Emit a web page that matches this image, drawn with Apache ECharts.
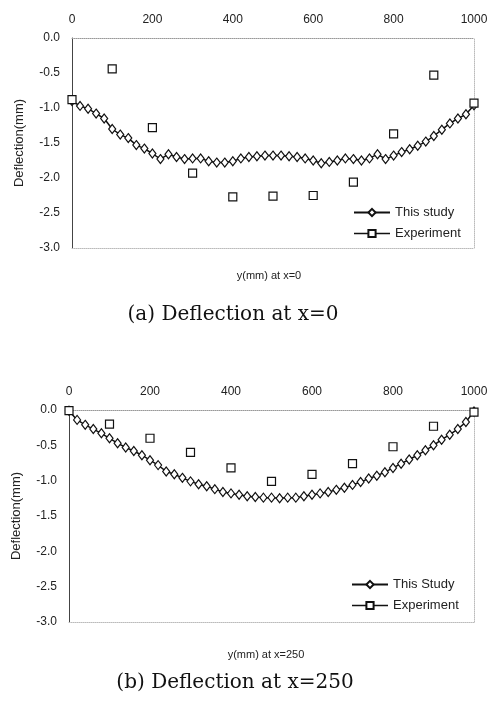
<!DOCTYPE html>
<html>
<head>
<meta charset="utf-8">
<script src="https://cdn.jsdelivr.net/npm/echarts@6/dist/echarts.min.js"></script>
<style>
html,body{margin:0;padding:0;background:#fff;}
#c{width:492px;height:711px;}
</style>
</head>
<body>
<div id="c"></div>
<script>
// y positions (mm) of the computed points
const studyY = [0,20,40,60,80,100,120,140,160,180,200,220,240,260,280,300,320,340,360,380,400,420,440,460,480,500,520,540,560,580,600,620,640,660,680,700,720,740,760,780,800,820,840,860,880,900,920,940,960,980,1000];
// (a) x=0
const studyA = [-0.90,-0.97,-1.01,-1.08,-1.15,-1.30,-1.38,-1.43,-1.53,-1.58,-1.65,-1.73,-1.66,-1.70,-1.73,-1.72,-1.72,-1.76,-1.78,-1.78,-1.76,-1.72,-1.70,-1.69,-1.68,-1.68,-1.68,-1.69,-1.70,-1.72,-1.75,-1.79,-1.77,-1.75,-1.72,-1.73,-1.75,-1.72,-1.66,-1.73,-1.68,-1.63,-1.59,-1.54,-1.48,-1.40,-1.31,-1.22,-1.15,-1.09,-0.96];
const expY = [0,100,200,300,400,500,600,700,800,900,1000];
const expA = [-0.88,-0.44,-1.28,-1.93,-2.27,-2.26,-2.25,-2.06,-1.37,-0.53,-0.93];
// (b) x=250
const studyB = [-0.01,-0.14,-0.21,-0.27,-0.33,-0.40,-0.47,-0.53,-0.58,-0.64,-0.71,-0.78,-0.87,-0.91,-0.96,-1.01,-1.05,-1.08,-1.12,-1.16,-1.18,-1.20,-1.22,-1.23,-1.24,-1.24,-1.25,-1.24,-1.24,-1.22,-1.20,-1.18,-1.16,-1.13,-1.10,-1.06,-1.02,-0.97,-0.93,-0.88,-0.82,-0.76,-0.70,-0.64,-0.57,-0.50,-0.42,-0.35,-0.27,-0.17,-0.02];
const expB = [-0.01,-0.20,-0.40,-0.60,-0.82,-1.01,-0.91,-0.76,-0.52,-0.23,-0.03];
const xTicks = ['0','200','400','600','800','1000'];
const yTicks = ['0.0','-0.5','-1.0','-1.5','-2.0','-2.5','-3.0'];

const zip = (a,b)=>a.map((v,i)=>[v,b[i]]);
const txt = '#222';
const sans = 'Liberation Sans';

function mainX(grid){
  return {type:'value', gridIndex:grid, position:'top', min:0, max:1000, interval:200,
    axisLine:{show:true, lineStyle:{color:'#999', type:'dotted', width:1}},
    axisTick:{show:false}, splitLine:{show:false},
    axisLabel:{color:txt, fontSize:12, fontFamily:sans, margin:12,
      formatter:v=>xTicks[Math.round(v/200)]}};
}
function borderX(grid){
  return {type:'value', gridIndex:grid, position:'bottom', min:0, max:1000, interval:200,
    axisLine:{show:true, onZero:false, lineStyle:{color:'#bbb', type:'dotted', width:1}},
    axisTick:{show:false}, axisLabel:{show:false}, splitLine:{show:false}};
}
function mainY(grid){
  return {type:'value', gridIndex:grid, position:'left', min:-3, max:0, interval:0.5,
    name:'Deflection(mm)', nameLocation:'middle', nameGap:46,
    nameTextStyle:{color:txt, fontSize:13, fontFamily:sans},
    axisLine:{show:true, onZero:false, lineStyle:{color:'#444', width:1}},
    axisTick:{show:false}, splitLine:{show:false},
    axisLabel:{color:txt, fontSize:12, fontFamily:sans, margin:12,
      formatter:v=>yTicks[Math.round(-v/0.5)]}};
}
function borderY(grid){
  return {type:'value', gridIndex:grid, position:'right', min:-3, max:0, interval:0.5,
    axisLine:{show:true, onZero:false, lineStyle:{color:'#bbb', type:'dotted', width:1}},
    axisTick:{show:false}, axisLabel:{show:false}, splitLine:{show:false}};
}
const studyStyle = {
  type:'line', symbol:'diamond', symbolSize:[7,9], showAllSymbol:true,
  lineStyle:{color:'#111', width:1.5},
  itemStyle:{color:'#fff', borderColor:'#111', borderWidth:1.2},
  z:3
};
const expStyle = {
  type:'line', symbol:'rect', symbolSize:8, showAllSymbol:true,
  lineStyle:{color:'#111', width:1.5, opacity:0},
  itemStyle:{color:'#fff', borderColor:'#111', borderWidth:1.2},
  z:4
};

const option = {
  animation:false,
  backgroundColor:'#fff',
  grid:[
    {left:72, top:38, width:402, height:210},
    {left:69, top:410, width:405, height:212}
  ],
  xAxis:[mainX(0), borderX(0), mainX(1), borderX(1)],
  yAxis:[mainY(0), borderY(0), mainY(1), borderY(1)],
  legend:[
    {orient:'vertical', left:348, top:201, itemWidth:36, itemHeight:9, itemGap:8,
      textStyle:{color:txt, fontSize:13, fontFamily:sans},
      data:[{name:'This study'},{name:'Experiment', lineStyle:{opacity:1, width:1.5, color:'#111'}}]},
    {orient:'vertical', left:346, top:573, itemWidth:36, itemHeight:9, itemGap:8,
      textStyle:{color:txt, fontSize:13, fontFamily:sans},
      data:[{name:'This Study'},{name:'Experiment', lineStyle:{opacity:1, width:1.5, color:'#111'}}]}
  ],
  series:[
    Object.assign({}, studyStyle, {name:'This study', xAxisIndex:0, yAxisIndex:0, data:zip(studyY, studyA)}),
    Object.assign({}, expStyle, {name:'Experiment', xAxisIndex:0, yAxisIndex:0, data:zip(expY, expA)}),
    Object.assign({}, studyStyle, {name:'This Study', xAxisIndex:2, yAxisIndex:2, data:zip(studyY, studyB)}),
    Object.assign({}, expStyle, {name:'Experiment', xAxisIndex:2, yAxisIndex:2, data:zip(expY, expB)})
  ],
  graphic:[
    {type:'text', x:269, y:276, style:{text:'y(mm) at x=0', fill:txt, font:'11px "Liberation Sans"', textAlign:'center', textVerticalAlign:'middle'}},
    {type:'text', x:233, y:315, style:{text:'(a) Deflection at x=0', fill:'#111', font:'20px "DejaVu Serif"', textAlign:'center', textVerticalAlign:'middle'}},
    {type:'text', x:266, y:655, style:{text:'y(mm) at x=250', fill:txt, font:'11px "Liberation Sans"', textAlign:'center', textVerticalAlign:'middle'}},
    {type:'text', x:235, y:683, style:{text:'(b) Deflection at x=250', fill:'#111', font:'20px "DejaVu Serif"', textAlign:'center', textVerticalAlign:'middle'}}
  ]
};
const chart = echarts.init(document.getElementById('c'), null, {renderer:'canvas'});
chart.setOption(option);
</script>
</body>
</html>
